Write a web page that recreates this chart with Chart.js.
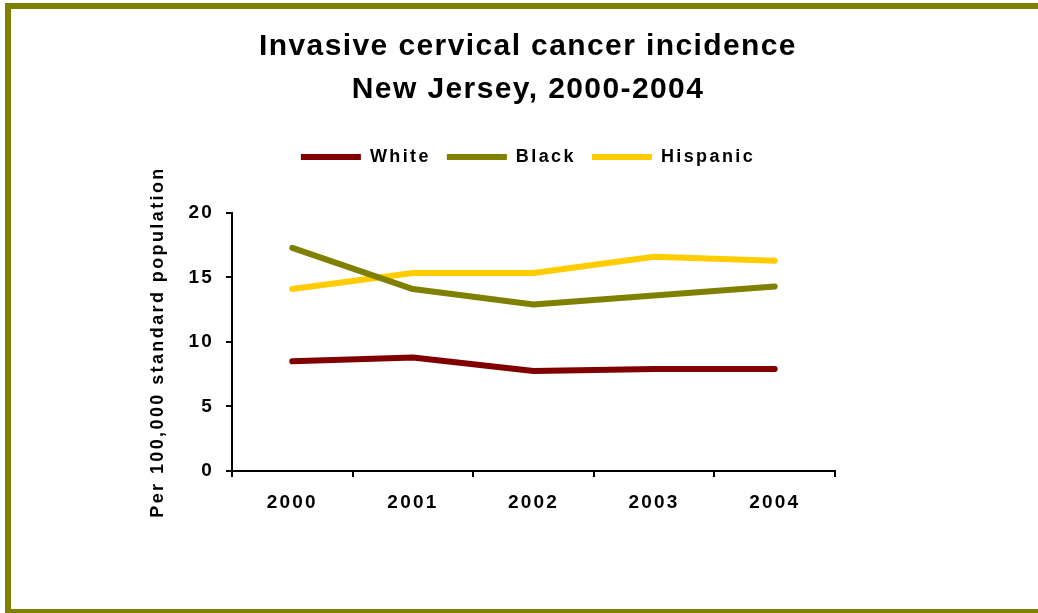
<!DOCTYPE html>
<html>
<head>
<meta charset="utf-8">
<title>Invasive cervical cancer incidence</title>
<script src="https://cdn.jsdelivr.net/npm/chart.js@4/dist/chart.umd.min.js"></script>
<style>
    html, body {
        margin: 0;
        padding: 0;
        background: #ffffff;
        overflow: hidden;
    }
    #frame {
        position: absolute;
        left: 5px;
        top: 3px;
        width: 1100px;
        height: 600px;
        border: 6px solid #808000;
    }
    #chart-wrap {
        position: absolute;
        left: 0;
        top: 0;
        width: 1038px;
        height: 613px;
    }
</style>
</head>
<body>
<div id="frame"></div>
<div id="chart-wrap">
    <canvas id="incidence-chart"></canvas>
</div>

<script>
// Chart data
var years = ['2000', '2001', '2002', '2003', '2004'];
var whiteRates = [8.5, 8.8, 7.75, 7.9, 7.9];
var blackRates = [17.3, 14.1, 12.9, 13.6, 14.3];
var hispanicRates = [14.1, 15.35, 15.35, 16.6, 16.3];
var yTicks = [0, 5, 10, 15, 20];

var titleLines = ['Invasive cervical cancer incidence', 'New Jersey, 2000-2004'];
var yAxisTitle = 'Per 100,000 standard population';

var FONT_FAMILY = "'Liberation Sans', Arial, sans-serif";

// The slide text is spaced out a little; amount depends on the font size
function spacingForFont(font) {
    var m = /(\d+(?:\.\d+)?)px/.exec(font || '');
    var size = m ? parseFloat(m[1]) : 12;
    if (size >= 26) return '1.4px';
    if (size >= 19) return '2.2px';
    return '2.4px';
}

var baseFillText = CanvasRenderingContext2D.prototype.fillText;
var baseMeasureText = CanvasRenderingContext2D.prototype.measureText;

CanvasRenderingContext2D.prototype.fillText = function(text, x, y, maxWidth) {
    this.letterSpacing = spacingForFont(this.font);
    if (maxWidth === undefined) {
        return baseFillText.call(this, text, x, y);
    }
    return baseFillText.call(this, text, x, y, maxWidth);
};

CanvasRenderingContext2D.prototype.measureText = function(text) {
    this.letterSpacing = spacingForFont(this.font);
    return baseMeasureText.call(this, text);
};

function makeDataset(label, data, color) {
    return {
        label: label,
        data: data,
        borderColor: color,
        backgroundColor: color,
        borderWidth: 6,
        borderCapStyle: 'round',
        borderJoinStyle: 'round',
        pointRadius: 0,
        pointHoverRadius: 0,
        tension: 0,
        fill: false
    };
}

Chart.defaults.font.family = FONT_FAMILY;
Chart.defaults.font.weight = 'bold';
Chart.defaults.color = '#000000';

var canvas = document.getElementById('incidence-chart');

new Chart(canvas, {
    type: 'line',
    data: {
        labels: years,
        datasets: [
            makeDataset('White', whiteRates, '#800000'),
            makeDataset('Black', blackRates, '#808000'),
            makeDataset('Hispanic', hispanicRates, '#FFCC00')
        ]
    },
    options: {
        responsive: true,
        maintainAspectRatio: false,
        animation: false,
        layout: {
            padding: { left: 140, right: 122, top: 0, bottom: 92 }
        },
        plugins: {
            title: {
                display: true,
                text: titleLines,
                font: { size: 30, weight: 'bold', lineHeight: 1.433 },
                color: '#000000',
                padding: { top: 25, bottom: 21 }
            },
            legend: {
                display: true,
                position: 'top',
                labels: {
                    usePointStyle: true,
                    pointStyle: 'line',
                    pointStyleWidth: 60,
                    padding: 16,
                    font: { size: 18, weight: 'bold' },
                    color: '#000000'
                }
            },
            // empty subtitle used as a spacer between legend and plot
            subtitle: {
                display: true,
                text: '',
                weight: 500,
                font: { size: 10, lineHeight: 1 },
                padding: { top: 27, bottom: 0 }
            },
            tooltip: { enabled: false }
        },
        scales: {
            x: {
                offset: true,
                grid: {
                    offset: true,
                    drawOnChartArea: false,
                    drawTicks: true,
                    tickLength: 6,
                    color: '#000000',
                    lineWidth: 2
                },
                border: { display: true, color: '#000000', width: 2 },
                ticks: {
                    autoSkip: false,
                    maxRotation: 0,
                    padding: 14,
                    font: { size: 19, weight: 'bold' }
                },
                afterFit: function(scale) {
                    scale.height = 50;
                }
            },
            y: {
                min: 0,
                max: 20,
                afterBuildTicks: function(scale) {
                    scale.ticks = yTicks.map(function(v) { return { value: v }; });
                },
                grid: {
                    drawOnChartArea: false,
                    drawTicks: true,
                    tickLength: 6,
                    color: '#000000',
                    lineWidth: 2
                },
                border: { display: true, color: '#000000', width: 2 },
                ticks: {
                    padding: 12,
                    font: { size: 19, weight: 'bold' }
                },
                title: {
                    display: true,
                    text: yAxisTitle,
                    font: { size: 18, weight: 'bold' },
                    padding: { top: 7, bottom: 0 }
                },
                afterFit: function(scale) {
                    scale.width = 92;
                }
            },
            // invisible right axis, only reserves room so the title stays centred like the slide
            yRight: {
                position: 'right',
                display: true,
                grid: { display: false },
                border: { display: false },
                ticks: { display: false },
                afterFit: function(scale) {
                    scale.width = 81;
                }
            }
        }
    }
});
</script>
</body>
</html>
